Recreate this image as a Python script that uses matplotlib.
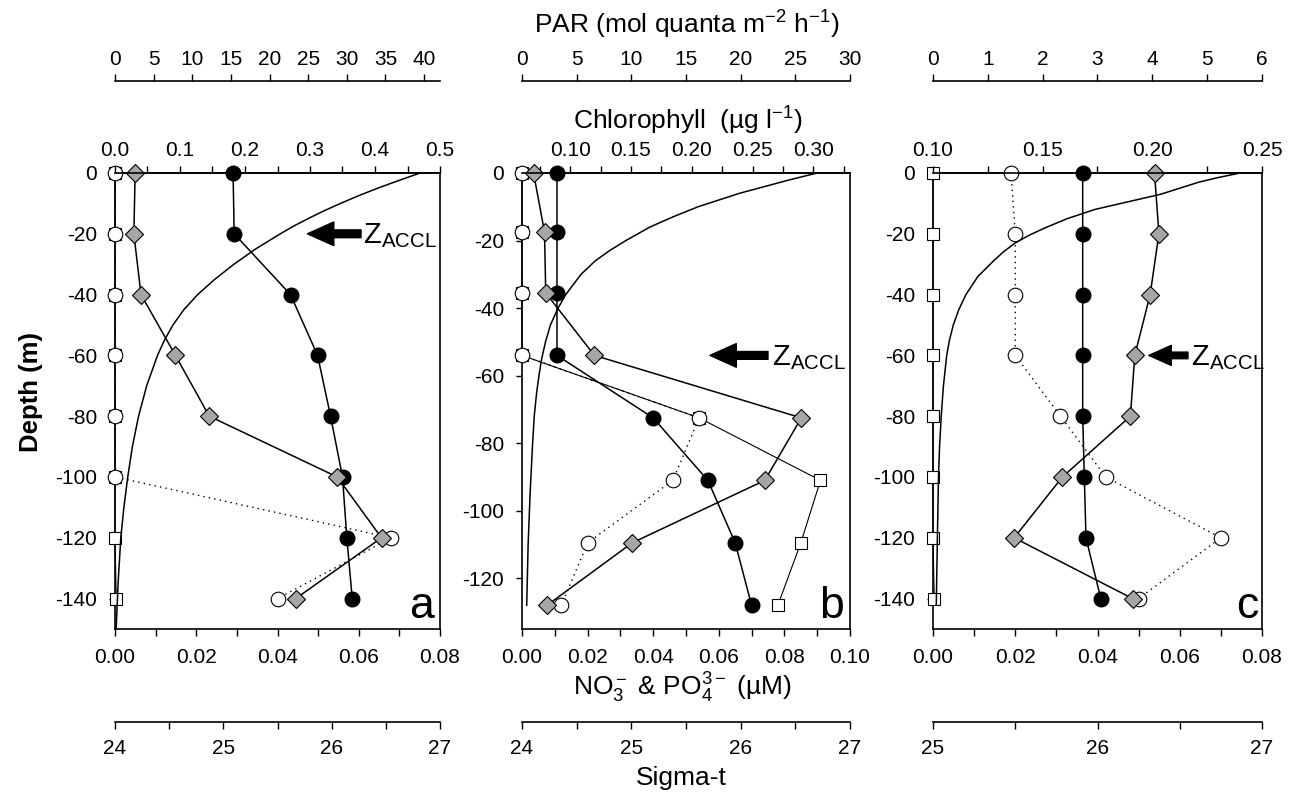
import matplotlib
matplotlib.use('Agg')
import matplotlib.pyplot as plt
from matplotlib.ticker import MultipleLocator, FormatStrFormatter
from matplotlib.transforms import blended_transform_factory

plt.rcParams['font.family'] = ['Liberation Sans', 'DejaVu Sans']
plt.rcParams['mathtext.fontset'] = 'custom'
plt.rcParams['mathtext.rm'] = 'Liberation Sans'
plt.rcParams['mathtext.it'] = 'Liberation Sans:italic'
plt.rcParams['mathtext.bf'] = 'Liberation Sans:bold'
plt.rcParams['mathtext.default'] = 'regular'

# sample depths (m)
depth_a = [0, -20, -40, -60, -80, -100, -120, -140]
depth_b = [0, -17.5, -35.5, -54, -72.5, -91, -109.5, -128]
depth_c = [0, -20, -40, -60, -80, -100, -120, -140]

# nutrients (uM): open circles and open squares
no3_a = [0, 0, 0, 0, 0, 0, 0.068, 0.040]
po4_a = [0, 0, 0, 0, 0, 0, 0, 0.0003]
no3_b = [0, 0, 0, 0, 0.054, 0.046, 0.020, 0.012]
po4_b = [0, 0, 0, 0, 0.054, 0.091, 0.085, 0.078]
no3_c = [0.019, 0.020, 0.020, 0.020, 0.031, 0.042, 0.070, 0.050]
po4_c = [0, 0, 0, 0, 0, 0, 0, 0.0003]

# chlorophyll (ug/l): grey diamonds
chl_a = [0.031, 0.029, 0.040, 0.093, 0.145, 0.342, 0.410, 0.278]
chl_b = [0.070, 0.079, 0.080, 0.120, 0.290, 0.260, 0.151, 0.081]
chl_c = [0.201, 0.203, 0.199, 0.192, 0.190, 0.159, 0.137, 0.191]

# sigma-t: filled circles
sig_a = [25.09, 25.10, 25.62, 25.87, 25.99, 26.10, 26.14, 26.19]
sig_b = [24.32, 24.32, 24.32, 24.32, 25.20, 25.70, 25.95, 26.10]
sig_c = [25.91, 25.91, 25.91, 25.91, 25.91, 25.92, 25.93, 26.02]

# PAR profiles (mol quanta m-2 h-1)
par_depth_a = [0, -2.5, -5, -7.5, -10, -12.5, -15, -17.5, -20, -25, -30, -35, -40, -45,
               -50, -55, -60, -70, -80, -90, -100, -110, -120, -135, -150]
par_a = [39.5, 36.7, 34.0, 31.5, 29.2, 27.0, 25.0, 23.1, 21.4, 18.2, 15.4, 12.9, 10.7, 8.9,
         7.5, 6.4, 5.5, 4.1, 3.05, 2.25, 1.65, 1.15, 0.75, 0.4, 0.15]
par_depth_b = [0, -2, -4, -6, -8, -10, -13, -16, -20, -23, -26, -30, -36, -40, -45,
               -50, -55, -60, -65, -72, -80, -95, -110, -128]
par_b = [27.0, 24.5, 22.2, 19.9, 18.0, 16.1, 13.8, 11.7, 9.5, 8.0, 6.7, 5.4, 4.0, 3.3, 2.6,
         2.15, 1.8, 1.55, 1.34, 1.12, 0.97, 0.74, 0.56, 0.43]
par_depth_c = [0, -1.5, -3, -5, -7, -9.5, -12, -15, -18, -20.5, -23, -26, -29, -34, -40,
               -45, -50, -55, -60, -70, -80, -90, -100, -120, -142]
par_c = [5.6, 5.2, 4.85, 4.5, 4.15, 3.55, 2.95, 2.45, 2.05, 1.75, 1.5, 1.28, 1.1, 0.82, 0.6,
         0.47, 0.37, 0.3, 0.25, 0.19, 0.15, 0.12, 0.1, 0.08, 0.06]

# depth of Z_ACCL arrows
zaccl_a = -20
zaccl_b = -54
zaccl_c = -60

letters = ['a', 'b', 'c']

TICK = 15
TITLE = 19

fig = plt.figure(figsize=(12.96, 7.95), dpi=100)


def draw_panel(p):
    ax = fig.add_axes(p['rect'])
    ax_p = ax.twiny()
    ax_s = ax.twiny()
    ax_c = ax.twiny()

    # depth + nutrient axis (frame)
    ax.set_ylim(p['ylow'], 0)
    ax.set_yticks(p['yticks'])
    ax.yaxis.set_major_formatter(FormatStrFormatter('%d'))
    ax.set_xlim(0, p['nut_max'])
    ax.xaxis.set_major_locator(MultipleLocator(0.02))
    ax.xaxis.set_minor_locator(MultipleLocator(0.01))
    ax.xaxis.set_major_formatter(FormatStrFormatter('%.2f'))
    ax.tick_params(axis='x', which='both', direction='out', length=5, width=1,
                   pad=9, labelsize=TICK, top=False)
    ax.tick_params(axis='y', direction='out', length=4, width=1, pad=9, labelsize=TICK)
    for s in ax.spines.values():
        s.set_linewidth(1.2)

    # PAR axis, top, offset
    ax_p.set_xlim(0, p['par_max'])
    ax_p.xaxis.set_major_locator(MultipleLocator(p['par_step']))
    ax_p.xaxis.set_major_formatter(FormatStrFormatter('%d'))
    ax_p.spines['top'].set_position(('outward', 66))
    ax_p.spines['top'].set_linewidth(1.2)
    for k in ['left', 'right', 'bottom']:
        ax_p.spines[k].set_visible(False)
    ax_p.tick_params(axis='x', which='both', direction='out', length=5, width=1,
                     pad=4, labelsize=TICK)

    # sigma-t axis, bottom, offset
    ax_s.set_xlim(p['sig_lim'])
    ax_s.xaxis.set_major_locator(MultipleLocator(1))
    ax_s.xaxis.set_minor_locator(MultipleLocator(0.5))
    ax_s.xaxis.set_major_formatter(FormatStrFormatter('%d'))
    ax_s.xaxis.set_ticks_position('bottom')
    ax_s.spines['bottom'].set_position(('outward', 67))
    ax_s.spines['bottom'].set_linewidth(1.2)
    for k in ['left', 'right', 'top']:
        ax_s.spines[k].set_visible(False)
    ax_s.tick_params(axis='x', which='both', direction='out', length=5, width=1,
                     pad=7.5, labelsize=TICK)

    # chlorophyll axis on the frame top
    ax_c.set_xlim(p['chl_lim'])
    ax_c.set_xticks(p['chl_major'])
    ax_c.set_xticks(p['chl_minor'], minor=True)
    ax_c.xaxis.set_major_formatter(FormatStrFormatter(p['chl_fmt']))
    for k in ['left', 'right', 'bottom']:
        ax_c.spines[k].set_visible(False)
    ax_c.spines['top'].set_linewidth(1.2)
    ax_c.tick_params(axis='x', which='both', direction='out', length=5, width=1,
                     pad=4, labelsize=TICK)

    # data
    ax_p.plot(p['par'], p['par_depth'], color='k', lw=1.1, clip_on=False)
    ax.plot(p['po4'], p['depth'], color='k', lw=0.8, marker='s', ms=8.5,
            mfc='white', mec='k', mew=0.8, clip_on=False, zorder=3)
    ax.plot(p['no3'], p['depth'], color='k', lw=1.0, ls=(0, (1, 3)), marker='o', ms=10.5,
            mfc='white', mec='k', mew=0.8, clip_on=False, zorder=4)
    ax_s.plot(p['sig'], p['depth'], color='k', lw=1.1, marker='o', ms=10.5,
              mfc='k', mec='k', clip_on=False)
    ax_c.plot(p['chl'], p['depth'], color='k', lw=1.1, marker='D', ms=9,
              mfc='#a6a6a6', mec='k', mew=0.8, clip_on=False)

    # Z_ACCL arrow
    tr = blended_transform_factory(ax.transAxes, ax.transData)
    ax_c.annotate('', xy=(p['tip'], p['zaccl']), xycoords=tr,
                  xytext=(p['tail'], p['zaccl']), textcoords=tr,
                  arrowprops=dict(arrowstyle='simple,head_length=0.95,head_width=0.85,tail_width=0.28',
                                  fc='k', ec='k', mutation_scale=p['ascale'],
                                  shrinkA=0, shrinkB=0))
    ax_c.annotate(r'Z$_{ACCL}$', xy=(p['ztext'], p['zaccl']), xycoords=tr,
                  xytext=(0, -7), textcoords='offset points',
                  ha='left', va='baseline', fontsize=21)

    ax.text(p['lx'], 0.024, p['letter'], transform=ax.transAxes,
            ha='right', va='baseline', fontsize=32)
    return ax


panels = [
    dict(rect=[115 / 1296, 1 - 629 / 795, 325 / 1296, 456 / 795],
         depth=depth_a, no3=no3_a, po4=po4_a, chl=chl_a, sig=sig_a,
         par_depth=par_depth_a, par=par_a, ylow=-150, yticks=range(-140, 1, 20),
         nut_max=0.08, par_max=42.07, par_step=5, sig_lim=(24, 27),
         chl_lim=(0, 0.5), chl_major=[0, 0.1, 0.2, 0.3, 0.4, 0.5],
         chl_minor=[0.05, 0.15, 0.25, 0.35, 0.45], chl_fmt='%.1f',
         zaccl=zaccl_a, tip=0.592, tail=0.757, ztext=0.763, ascale=20,
         letter=letters[0], lx=0.982),
    dict(rect=[522 / 1296, 1 - 629 / 795, 328 / 1296, 456 / 795],
         depth=depth_b, no3=no3_b, po4=po4_b, chl=chl_b, sig=sig_b,
         par_depth=par_depth_b, par=par_b, ylow=-135, yticks=range(-120, 1, 20),
         nut_max=0.10, par_max=30, par_step=5, sig_lim=(24, 27),
         chl_lim=(0.0605, 0.330), chl_major=[0.10, 0.15, 0.20, 0.25, 0.30],
         chl_minor=[0.075, 0.125, 0.175, 0.225, 0.275, 0.325], chl_fmt='%.2f',
         zaccl=zaccl_b, tip=0.573, tail=0.750, ztext=0.763, ascale=20,
         letter=letters[1], lx=0.982),
    dict(rect=[933 / 1296, 1 - 629 / 795, 329 / 1296, 456 / 795],
         depth=depth_c, no3=no3_c, po4=po4_c, chl=chl_c, sig=sig_c,
         par_depth=par_depth_c, par=par_c, ylow=-150, yticks=range(-140, 1, 20),
         nut_max=0.08, par_max=6, par_step=1, sig_lim=(25, 27),
         chl_lim=(0.10, 0.25), chl_major=[0.10, 0.15, 0.20, 0.25],
         chl_minor=[0.125, 0.175, 0.225], chl_fmt='%.2f',
         zaccl=zaccl_c, tip=0.656, tail=0.775, ztext=0.783, ascale=17,
         letter=letters[2], lx=0.99),
]

for p in panels:
    draw_panel(p)

fig.text(0.5298, 1 - 25 / 795, r'PAR (mol quanta m$^{-2}$ h$^{-1}$)',
         ha='center', va='center', fontsize=TITLE)
fig.text(0.531, 1 - 121 / 795, r'Chlorophyll  (µg l$^{-1}$)',
         ha='center', va='center', fontsize=TITLE)
fig.text(0.5267, 1 - 688 / 795, r'NO$_3^-$ & PO$_4^{3-}$ (µM)',
         ha='center', va='center', fontsize=TITLE)
fig.text(0.526, 1 - 778 / 795, 'Sigma-t', ha='center', va='center', fontsize=TITLE)
fig.text(0.024, 1 - 392 / 795, 'Depth (m)', ha='center', va='center',
         rotation=90, fontsize=18.5, fontweight='bold')

fig.savefig('out.png', dpi=100)
